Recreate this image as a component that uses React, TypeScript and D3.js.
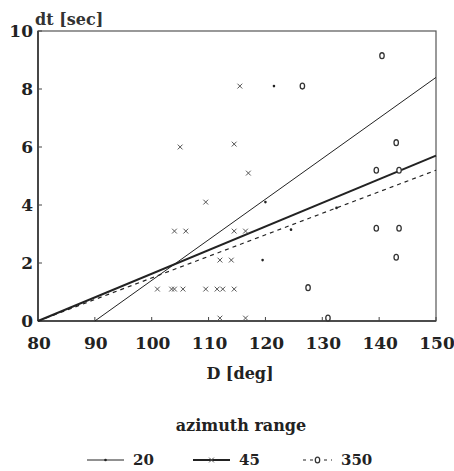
import React, { useRef, useEffect } from "react";
import * as d3 from "d3";

type Pt = [number, number];

// values
const xTicks = [80, 90, 100, 110, 120, 130, 140, 150];
const yTicks = [0, 2, 4, 6, 8, 10];
const legendNames = ["20", "45", "350"];

// azimuth range 20 (small dots, thin line)
const az20Points: Pt[] = [
  [121.5, 8.1],
  [120, 4.1],
  [132.5, 3.9],
  [124.5, 3.15],
  [119.5, 2.1],
];

// azimuth range 45 (crosses, thick line)
const az45Points: Pt[] = [
  [115.5, 8.1],
  [105, 6.0],
  [114.5, 6.1],
  [117, 5.1],
  [109.5, 4.1],
  [104, 3.1],
  [106, 3.1],
  [114.5, 3.1],
  [116.5, 3.1],
  [112, 2.1],
  [114, 2.1],
  [101, 1.1],
  [103.5, 1.1],
  [104, 1.1],
  [105.5, 1.1],
  [109.5, 1.1],
  [111.5, 1.1],
  [112.5, 1.1],
  [114.5, 1.1],
  [112, 0.1],
  [116.5, 0.1],
];

// azimuth range 350 (open rings, dashed line)
const az350Points: Pt[] = [
  [126.5, 8.1],
  [140.5, 9.15],
  [143, 6.15],
  [139.5, 5.2],
  [143.5, 5.2],
  [139.5, 3.2],
  [143.5, 3.2],
  [143, 2.2],
  [127.5, 1.15],
  [131, 0.1],
];

// regression lines (end points)
const fit20: Pt[] = [
  [90, 0],
  [150, 8.4],
];
const fit45: Pt[] = [
  [80, 0],
  [150, 5.7],
];
const fit350: Pt[] = [
  [80, 0],
  [150, 5.2],
];

const FONT = "'DejaVu Serif', 'Liberation Serif', serif";

const App: React.FC = () => {
  const svgRef = useRef<SVGSVGElement | null>(null);

  const width = 454;
  const height = 471;

  const xScale = d3.scaleLinear().domain([80, 150]).range([38, 436]);
  const yScale = d3.scaleLinear().domain([0, 10]).range([321, 31]);

  useEffect(() => {
    if (!svgRef.current) return;
    const svg = d3.select(svgRef.current);
    svg.selectAll("*").remove();

    const ink = "#222";

    // frame
    svg
      .append("rect")
      .attr("x", xScale(80))
      .attr("y", yScale(10))
      .attr("width", xScale(150) - xScale(80))
      .attr("height", yScale(0) - yScale(10))
      .attr("fill", "none")
      .attr("stroke", "#555")
      .attr("stroke-width", 1.2);
    // heavier left and bottom axes
    svg
      .append("line")
      .attr("x1", xScale(80))
      .attr("x2", xScale(80))
      .attr("y1", yScale(0))
      .attr("y2", yScale(10))
      .attr("stroke", "#333")
      .attr("stroke-width", 1.6);
    svg
      .append("line")
      .attr("x1", xScale(80))
      .attr("x2", xScale(150))
      .attr("y1", yScale(0))
      .attr("y2", yScale(0))
      .attr("stroke", "#333")
      .attr("stroke-width", 1.6);

    // ticks (inside) and labels
    xTicks.forEach((t) => {
      svg
        .append("line")
        .attr("x1", xScale(t))
        .attr("x2", xScale(t))
        .attr("y1", yScale(0))
        .attr("y2", yScale(0) - 4)
        .attr("stroke", "#444");
      svg
        .append("text")
        .attr("x", xScale(t) + 1)
        .attr("y", 349)
        .attr("text-anchor", "middle")
        .attr("font-family", FONT)
        .attr("font-weight", "bold")
        .attr("font-size", 17)
        .attr("fill", ink)
        .text(t);
    });
    yTicks.forEach((t) => {
      svg
        .append("line")
        .attr("x1", xScale(80))
        .attr("x2", xScale(80) + 4)
        .attr("y1", yScale(t))
        .attr("y2", yScale(t))
        .attr("stroke", "#444");
      svg
        .append("text")
        .attr("x", 33)
        .attr("y", yScale(t) + 6)
        .attr("text-anchor", "end")
        .attr("font-family", FONT)
        .attr("font-weight", "bold")
        .attr("font-size", 17)
        .attr("fill", ink)
        .text(t);
    });

    // axis titles
    svg
      .append("text")
      .attr("x", 35)
      .attr("y", 25)
      .attr("font-family", FONT)
      .attr("font-weight", "bold")
      .attr("font-size", 16)
      .attr("fill", "#333")
      .text("dt [sec]");
    svg
      .append("text")
      .attr("x", 240)
      .attr("y", 379)
      .attr("text-anchor", "middle")
      .attr("font-family", FONT)
      .attr("font-weight", "bold")
      .attr("font-size", 16)
      .attr("fill", ink)
      .text("D [deg]");

    const line = d3
      .line<Pt>()
      .x((d) => xScale(d[0]))
      .y((d) => yScale(d[1]));

    // regression lines
    svg
      .append("path")
      .attr("d", line(fit20))
      .attr("fill", "none")
      .attr("stroke", ink)
      .attr("stroke-width", 1);
    svg
      .append("path")
      .attr("d", line(fit45))
      .attr("fill", "none")
      .attr("stroke", ink)
      .attr("stroke-width", 2);
    svg
      .append("path")
      .attr("d", line(fit350))
      .attr("fill", "none")
      .attr("stroke", ink)
      .attr("stroke-width", 1.2)
      .attr("stroke-dasharray", "4,4");

    // markers
    const drawDot = (g: any, x: number, y: number) => {
      g.append("circle").attr("cx", x).attr("cy", y).attr("r", 1.3).attr("fill", ink);
    };
    const drawCross = (g: any, x: number, y: number) => {
      const s = 2.4;
      g.append("path")
        .attr("d", `M${x - s},${y - s}L${x + s},${y + s}M${x - s},${y + s}L${x + s},${y - s}`)
        .attr("stroke", "#555")
        .attr("stroke-width", 1);
    };
    const drawRing = (g: any, x: number, y: number) => {
      g.append("ellipse")
        .attr("cx", x)
        .attr("cy", y)
        .attr("rx", 2.2)
        .attr("ry", 2.9)
        .attr("fill", "white")
        .attr("stroke", "#333")
        .attr("stroke-width", 1.3);
    };

    az20Points.forEach((p) => drawDot(svg, xScale(p[0]), yScale(p[1])));
    az45Points.forEach((p) => drawCross(svg, xScale(p[0]), yScale(p[1])));
    az350Points.forEach((p) => drawRing(svg, xScale(p[0]), yScale(p[1])));

    // legend
    svg
      .append("text")
      .attr("x", 241)
      .attr("y", 431)
      .attr("text-anchor", "middle")
      .attr("font-family", FONT)
      .attr("font-weight", "bold")
      .attr("font-size", 16)
      .attr("fill", ink)
      .text("azimuth range");

    const ly = 460;
    const legendX = [87, 193, 303];
    const legendLen = [37, 37, 29];
    legendNames.forEach((name, i) => {
      const x0 = legendX[i];
      const x1 = x0 + legendLen[i];
      const ln = svg
        .append("line")
        .attr("x1", x0)
        .attr("x2", x1)
        .attr("y1", ly)
        .attr("y2", ly)
        .attr("stroke", ink);
      if (i === 0) ln.attr("stroke-width", 1);
      if (i === 1) ln.attr("stroke-width", 1.8);
      if (i === 2) ln.attr("stroke-width", 1.2).attr("stroke-dasharray", "3,4");
      const mx = (x0 + x1) / 2;
      if (i === 0) drawDot(svg, mx, ly);
      if (i === 1) drawCross(svg, mx, ly);
      if (i === 2) drawRing(svg, mx, ly);
      svg
        .append("text")
        .attr("x", x1 + 9)
        .attr("y", ly + 5)
        .attr("font-family", FONT)
        .attr("font-weight", "bold")
        .attr("font-size", 15)
        .attr("fill", ink)
        .text(name);
    });
  }, []);

  return (
    <svg
      ref={svgRef}
      width={width}
      height={height}
      style={{ position: "absolute", left: 0, top: 0, display: "block", background: "white" }}
    />
  );
};

export default App;
